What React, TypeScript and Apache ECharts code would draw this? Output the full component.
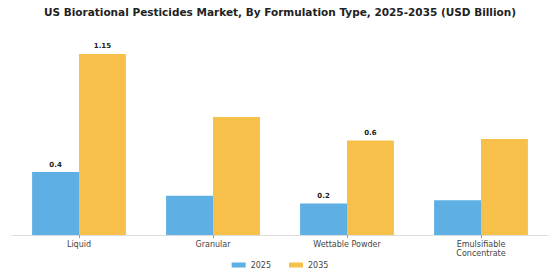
import React, { useEffect, useRef } from "react";
import * as echarts from "echarts";

const categories = ["Liquid", "Granular", "Wettable Powder", "Emulsifiable\nConcentrate"];
const values2025 = [0.4, 0.25, 0.2, 0.22];
const values2035 = [1.15, 0.75, 0.6, 0.61];
const labeled2025 = [true, false, true, false];
const labeled2035 = [true, false, true, false];
const seriesNames = ["2025", "2035"];
const title = "US Biorational Pesticides Market, By Formulation Type, 2025-2035 (USD Billion)";

const labelStyle = {
  position: "top" as const,
  fontFamily: "DejaVu Sans",
  fontWeight: "bold" as const,
  fontSize: 7,
  color: "#222",
  distance: 4,
};

function build(values: number[], flags: boolean[]) {
  return values.map((v, i) => ({
    value: v,
    label: { show: flags[i], ...labelStyle },
  }));
}

export default function App() {
  const ref = useRef<HTMLDivElement>(null);
  useEffect(() => {
    if (!ref.current) return;
    const chart = echarts.init(ref.current, undefined, { renderer: "svg" });
    chart.setOption({
      animation: false,
      backgroundColor: "#ffffff",
      title: {
        text: title,
        left: "center",
        top: 1,
        textStyle: {
          fontFamily: "DejaVu Sans",
          fontWeight: "bold",
          fontSize: 10.5,
          color: "#222",
        },
      },
      legend: {
        bottom: 6,
        left: "center",
        itemWidth: 14,
        itemHeight: 5,
        itemGap: 18,
        icon: "rect",
        textStyle: { fontFamily: "DejaVu Sans", fontSize: 8, color: "#444" },
        data: seriesNames,
      },
      grid: { left: 12, right: 12, top: 46, bottom: 45 },
      xAxis: {
        type: "category",
        data: categories,
        axisLine: { lineStyle: { color: "#ddd" } },
        axisTick: { show: true, alignWithLabel: true, length: 3, lineStyle: { color: "#999" } },
        axisLabel: {
          fontFamily: "DejaVu Sans",
          fontSize: 8,
          color: "#444",
          margin: 5,
          lineHeight: 9,
          interval: 0,
        },
      },
      yAxis: {
        type: "value",
        min: 0,
        max: 1.2,
        show: false,
        splitLine: { show: false },
      },
      series: [
        {
          name: seriesNames[0],
          type: "bar",
          data: build(values2025, labeled2025),
          itemStyle: { color: "#5DAFE4" },
          barGap: "0%",
          barCategoryGap: "30%",
        },
        {
          name: seriesNames[1],
          type: "bar",
          data: build(values2035, labeled2035),
          itemStyle: { color: "#F7C04A" },
          barGap: "0%",
          barCategoryGap: "30%",
        },
      ],
    });
    return () => chart.dispose();
  }, []);
  return <div ref={ref} style={{ width: 560, height: 280, margin: -8 }} />;
}
